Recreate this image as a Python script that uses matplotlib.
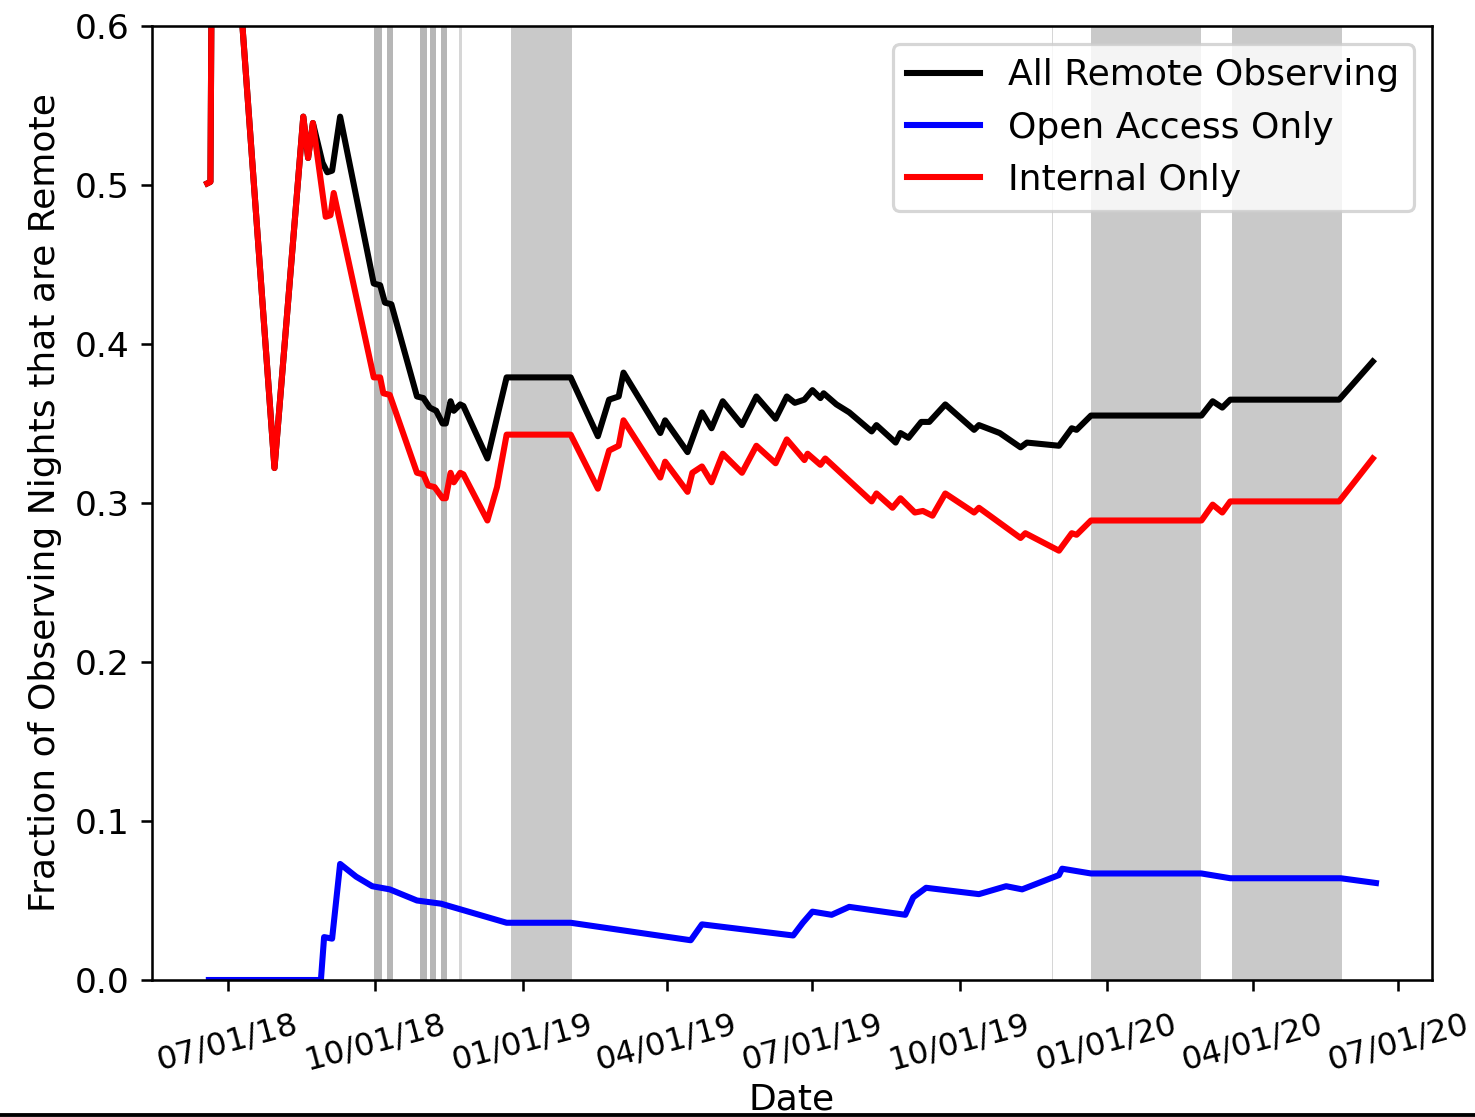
import matplotlib
matplotlib.use("Agg")
import matplotlib.pyplot as plt
import matplotlib.dates as mdates
from matplotlib.lines import Line2D
import pandas as pd

# ---- data ----
all_dates = ["2018-06-18", "2018-06-20", "2018-06-22", "2018-07-30", "2018-08-17", "2018-08-20",
             "2018-08-23", "2018-08-29", "2018-09-01", "2018-09-04", "2018-09-09", "2018-09-30",
             "2018-10-04", "2018-10-07", "2018-10-11", "2018-10-27", "2018-10-31", "2018-11-04",
             "2018-11-08", "2018-11-12", "2018-11-14", "2018-11-17", "2018-11-19", "2018-11-23",
             "2018-11-25", "2018-12-10", "2018-12-17", "2018-12-22", "2019-01-31", "2019-02-17",
             "2019-02-24", "2019-03-02", "2019-03-05", "2019-03-28", "2019-03-31", "2019-04-14",
             "2019-04-23", "2019-04-29", "2019-05-06", "2019-05-18", "2019-05-27", "2019-06-08",
             "2019-06-15", "2019-06-20", "2019-06-26", "2019-07-01", "2019-07-06", "2019-07-08",
             "2019-07-16", "2019-07-24", "2019-08-07", "2019-08-10", "2019-08-22", "2019-08-25",
             "2019-08-30", "2019-09-07", "2019-09-12", "2019-09-22", "2019-10-10", "2019-10-13",
             "2019-10-26", "2019-11-08", "2019-11-12", "2019-12-02", "2019-12-10", "2019-12-13",
             "2019-12-22", "2020-02-29", "2020-03-07", "2020-03-13", "2020-03-18", "2020-05-25",
             "2020-06-15"]
all_values = [0.501, 0.502, 0.85, 0.322, 0.543, 0.517,
              0.539, 0.514, 0.508, 0.509, 0.543, 0.438,
              0.437, 0.426, 0.425, 0.367, 0.366, 0.360,
              0.358, 0.350, 0.350, 0.364, 0.358, 0.362,
              0.361, 0.328, 0.358, 0.379, 0.379, 0.342,
              0.365, 0.367, 0.382, 0.344, 0.352, 0.332,
              0.357, 0.347, 0.364, 0.349, 0.367, 0.353,
              0.367, 0.363, 0.365, 0.371, 0.366, 0.369,
              0.362, 0.357, 0.345, 0.349, 0.338, 0.344,
              0.341, 0.351, 0.351, 0.362, 0.346, 0.349,
              0.344, 0.335, 0.338, 0.336, 0.347, 0.346,
              0.355, 0.355, 0.364, 0.360, 0.365, 0.365,
              0.389]

open_dates = ["2018-06-19", "2018-08-28", "2018-08-30", "2018-09-04", "2018-09-09", "2018-09-19",
              "2018-09-29", "2018-10-10", "2018-10-27", "2018-11-11", "2018-12-22", "2019-01-31",
              "2019-04-16", "2019-04-23", "2019-06-19", "2019-06-25", "2019-07-01", "2019-07-13",
              "2019-07-24", "2019-08-28", "2019-09-02", "2019-09-10", "2019-10-13", "2019-10-30",
              "2019-11-09", "2019-12-02", "2019-12-04", "2019-12-22", "2020-02-29", "2020-03-18",
              "2020-05-26", "2020-06-17"]
open_values = [0.0, 0.0, 0.027, 0.026, 0.073, 0.065,
               0.059, 0.057, 0.050, 0.048, 0.036, 0.036,
               0.025, 0.035, 0.028, 0.036, 0.043, 0.041,
               0.046, 0.041, 0.052, 0.058, 0.054, 0.059,
               0.057, 0.066, 0.070, 0.067, 0.067, 0.064,
               0.064, 0.061]

int_dates = ["2018-06-18", "2018-06-20", "2018-06-22", "2018-07-30", "2018-08-17", "2018-08-20",
             "2018-08-23", "2018-08-31", "2018-09-03", "2018-09-05", "2018-09-30", "2018-10-04",
             "2018-10-06", "2018-10-10", "2018-10-27", "2018-10-31", "2018-11-03", "2018-11-07",
             "2018-11-12", "2018-11-14", "2018-11-17", "2018-11-19", "2018-11-23", "2018-11-25",
             "2018-12-10", "2018-12-16", "2018-12-22", "2019-01-31", "2019-02-17", "2019-02-24",
             "2019-03-02", "2019-03-05", "2019-03-28", "2019-03-31", "2019-04-14", "2019-04-17",
             "2019-04-23", "2019-04-29", "2019-05-06", "2019-05-18", "2019-05-27", "2019-06-08",
             "2019-06-15", "2019-06-26", "2019-06-28", "2019-07-06", "2019-07-09", "2019-08-07",
             "2019-08-10", "2019-08-20", "2019-08-25", "2019-09-03", "2019-09-08", "2019-09-14",
             "2019-09-22", "2019-10-10", "2019-10-13", "2019-11-08", "2019-11-11", "2019-12-02",
             "2019-12-10", "2019-12-13", "2019-12-22", "2020-02-29", "2020-03-07", "2020-03-13",
             "2020-03-18", "2020-05-25", "2020-06-15"]
int_values = [0.501, 0.502, 0.85, 0.322, 0.543, 0.517,
              0.539, 0.480, 0.481, 0.495, 0.379, 0.379,
              0.369, 0.368, 0.319, 0.318, 0.311, 0.310,
              0.303, 0.303, 0.319, 0.313, 0.319, 0.318,
              0.289, 0.310, 0.343, 0.343, 0.309, 0.333,
              0.336, 0.352, 0.316, 0.326, 0.307, 0.319,
              0.323, 0.313, 0.331, 0.319, 0.336, 0.325,
              0.340, 0.327, 0.331, 0.324, 0.328, 0.301,
              0.306, 0.297, 0.303, 0.294, 0.295, 0.292,
              0.306, 0.294, 0.297, 0.278, 0.281, 0.270,
              0.281, 0.280, 0.289, 0.289, 0.299, 0.294,
              0.301, 0.301, 0.328]

# shaded periods
short_spans = [("2018-09-30", "2018-10-05"), ("2018-10-08", "2018-10-12"),
               ("2018-10-29", "2018-11-02"), ("2018-11-04", "2018-11-08"),
               ("2018-11-11", "2018-11-15")]
faint_spans = [("2018-11-22", "2018-11-24"), ("2019-11-27 18:00", "2019-11-28 12:00")]
long_spans = [("2018-12-25", "2019-02-01"), ("2019-12-22", "2020-02-29"),
              ("2020-03-19", "2020-05-27")]

x_limits = ("2018-05-14 12:00", "2020-07-22")
y_limits = (0.0, 0.6)

# ---- plot ----
W, H, DPI = 1475, 1117, 230
plt.rcParams["font.size"] = 11.3
plt.rcParams["xtick.labelsize"] = 10.1
plt.rcParams["ytick.labelsize"] = 10.8
fig = plt.figure(figsize=(W / DPI, H / DPI), dpi=DPI)
ax = fig.add_axes([152 / W, 1 - 980 / H, (1432 - 152) / W, (980 - 26) / H])

for a, b in short_spans:
    ax.axvspan(pd.Timestamp(a), pd.Timestamp(b), color="#b6b6b6", lw=0, zorder=0)
for a, b in faint_spans:
    ax.axvspan(pd.Timestamp(a), pd.Timestamp(b), color="#d6d6d6", lw=0, zorder=0)
for a, b in long_spans:
    ax.axvspan(pd.Timestamp(a), pd.Timestamp(b), color="#c9c9c9", lw=0, zorder=0)

ax.plot(pd.to_datetime(all_dates), all_values, color="black", lw=1.9, label="All Remote Observing")
ax.plot(pd.to_datetime(open_dates), open_values, color="blue", lw=1.9, label="Open Access Only")
ax.plot(pd.to_datetime(int_dates), int_values, color="red", lw=1.9, label="Internal Only")

ax.set_xlim(pd.Timestamp(x_limits[0]), pd.Timestamp(x_limits[1]))
ax.set_ylim(*y_limits)
ax.xaxis.set_major_locator(mdates.MonthLocator(bymonth=[1, 4, 7, 10]))
ax.xaxis.set_major_formatter(mdates.DateFormatter("%m/%d/%y"))
ax.tick_params(axis="x", pad=5.5)
for lab in ax.get_xticklabels():
    lab.set_rotation(15)
    lab.set_ha("center")

ax.set_xlabel("Date", labelpad=2)
ax.set_ylabel("Fraction of Observing Nights that are Remote")
ax.legend(loc="upper right")

fig.add_artist(Line2D([0, 1], [0.0015, 0.0015], transform=fig.transFigure, color="black", lw=1.2))

fig.savefig("out.png", dpi=DPI)
